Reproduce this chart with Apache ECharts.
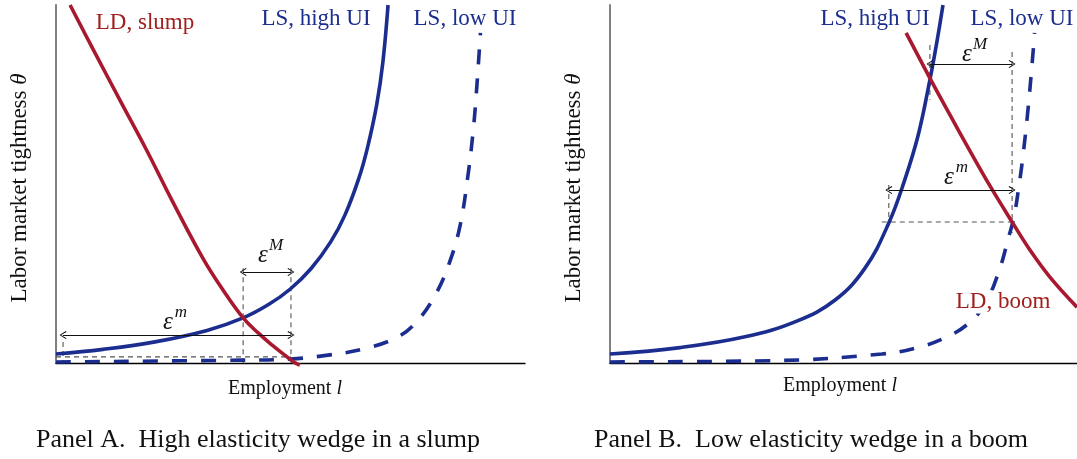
<!DOCTYPE html>
<html>
<head>
<meta charset="utf-8">
<script src="https://cdn.jsdelivr.net/npm/echarts@6/dist/echarts.min.js"></script>
<style>
html, body { margin: 0; padding: 0; background: #fff; }
#chart { width: 1077px; height: 459px; }
</style>
</head>
<body>
<div id="chart"></div>
<script>
// both panels: x = employment l, y = tightness theta, read on a 0..100 scale

// Panel A, slump
var ldSlump = [[3.0, 100], [8.0, 87.4], [13.6, 73.5], [19.3, 59.5], [24.7, 45.5], [31.3, 29.3],
    [35.6, 20.4], [39.9, 12.6], [43.1, 8.4], [46.1, 5.0], [48.8, 2.2], [50.7, 0.3], [52.0, -0.6]];
var lsHighA = [[0, 2.5], [10.0, 3.8], [21.1, 5.9], [32.2, 9.1], [39.9, 12.6], [45.4, 16.4], [49.9, 20.6],
    [54.4, 26.4], [58.6, 33.9], [61.6, 41.3], [64.6, 51.7], [66.5, 60.6], [68.4, 72.3], [69.7, 84.1], [70.8, 100]];
var lsLowA = [[0, 0.3], [39.7, 0.8], [49.9, 1.1], [58.0, 2.2], [65.5, 3.9], [72.9, 7.3], [77.2, 12.0],
    [81.0, 19.3], [83.8, 27.7], [86.1, 38.0], [87.8, 52.0], [88.9, 64.2], [89.6, 74.9], [90.5, 92.2]];
var guidesA = [
    [[39.9, 26.5], [39.9, 0]],
    [[50.1, 26.5], [50.1, 0]],
    [[0, 1.7], [50.1, 1.7]],
    [[1.5, 5.9], [1.5, 0]]
];
var arrowsA = [
    [[39.9, 25.4], [50.1, 25.4]],   // eps M
    [[1.5, 7.8], [50.1, 7.8]]       // eps m
];

// Panel B, boom
var ldBoom = [[63.4, 92.2], [68.5, 79.6], [72.8, 69.3], [77.1, 59.2], [81.4, 49.4], [86.1, 39.4],
    [89.9, 31.6], [94.2, 24.0], [100, 15.6]];
var lsHighB = [[0, 2.5], [15.0, 4.3], [28.9, 7.3], [40.0, 11.7], [48.2, 17.6], [54.6, 26.5], [59.7, 39.1],
    [63.1, 51.1], [66.0, 63.7], [68.5, 79.1], [70.0, 89.7], [71.3, 100]];
var lsLowB = [[0, 0.3], [36.4, 0.7], [58.2, 2.5], [65.5, 4.2], [71.7, 7.0], [76.9, 11.2], [80.5, 17.0],
    [83.5, 26.5], [85.2, 34.4], [86.5, 40.8], [87.6, 49.7], [88.4, 57.5], [89.5, 70.7], [90.6, 86.9], [90.9, 92.2]];
var guidesB = [
    [[68.5, 88.8], [68.5, 73.5]],
    [[86.1, 86.9], [86.1, 36.3]],
    [[58.2, 39.4], [86.1, 39.4]],
    [[59.7, 49.7], [59.7, 37.2]]
];
var arrowsB = [
    [[68.5, 83.5], [86.1, 83.5]],
    [[59.7, 48.3], [86.1, 48.3]]
];

var RED = '#a8192f';
var BLUE = '#1b2d8f';
var SERIF = '"Liberation Serif", "DejaVu Serif", serif';
var ARROW = 'path://M5,0 L10,9 L9,10 L5,2.2 L1,10 L0,9 Z';

function curve(data, idx, color, dashed) {
    return {
        type: 'line', xAxisIndex: idx, yAxisIndex: idx, data: data,
        showSymbol: false, smooth: 0.4, clip: false, silent: true,
        lineStyle: { color: color, width: 3.6, type: dashed ? [15, 14] : 'solid', cap: 'butt' },
        z: dashed ? 3 : 4
    };
}

function guide(seg, idx) {
    return {
        type: 'line', xAxisIndex: idx, yAxisIndex: idx, data: seg,
        showSymbol: false, clip: false, silent: true,
        lineStyle: { color: '#555', width: 1.1, type: [5, 4] },
        z: 2
    };
}

function arrows(list, idx) {
    return {
        type: 'line', xAxisIndex: idx, yAxisIndex: idx, data: [], silent: true,
        markLine: {
            silent: true, animation: false,
            symbol: [ARROW, ARROW], symbolSize: [8, 7],
            label: { show: false },
            lineStyle: { color: '#111', width: 1, type: 'solid' },
            data: list.map(function (s) {
                return [{ coord: s[0] }, { coord: s[1] }];
            })
        }
    };
}

function axisX(idx) {
    return {
        gridIndex: idx, type: 'value', min: 0, max: 100,
        axisLine: { show: true, onZero: false, lineStyle: { color: '#000', width: 1.3 } },
        axisTick: { show: false }, axisLabel: { show: false }, splitLine: { show: false }
    };
}
function axisY(idx) {
    return {
        gridIndex: idx, type: 'value', min: 0, max: 100,
        axisLine: { show: true, onZero: false, lineStyle: { color: '#808080', width: 2 } },
        axisTick: { show: false }, axisLabel: { show: false }, splitLine: { show: false }
    };
}

function txt(x, y, text, size, color, opts) {
    opts = opts || {};
    return {
        type: 'text', x: x, y: y, rotation: opts.rotation || 0, silent: true, z: opts.z || 10,
        style: {
            text: text,
            font: (opts.italic ? 'italic ' : '') + size + 'px ' + SERIF,
            fill: color,
            textAlign: opts.align || 'center',
            textVerticalAlign: 'middle',
            backgroundColor: opts.bg,
            padding: opts.bg ? [0, 2] : 0,
            rich: opts.rich
        }
    };
}

function eps(x, y, sup) {
    return [
        txt(x, y, 'ε', 25, '#111', { italic: true }),
        txt(x + 13, y - 9, sup, 17, '#111', { italic: true })
    ];
}

var xRich = {
    n: { fontFamily: SERIF, fontSize: 20, color: '#111' },
    i: { fontFamily: SERIF, fontSize: 20, fontStyle: 'italic', color: '#111' }
};
var yRich = {
    n: { fontFamily: SERIF, fontSize: 23, color: '#111' },
    i: { fontFamily: SERIF, fontSize: 23, fontStyle: 'italic', color: '#111' }
};

var series = [
    curve(lsLowA, 0, BLUE, true),
    curve(lsHighA, 0, BLUE, false),
    curve(ldSlump, 0, RED, false),
    curve(lsLowB, 1, BLUE, true),
    curve(lsHighB, 1, BLUE, false),
    curve(ldBoom, 1, RED, false),
    arrows(arrowsA, 0),
    arrows(arrowsB, 1)
];
guidesA.forEach(function (s) { series.push(guide(s, 0)); });
guidesB.forEach(function (s) { series.push(guide(s, 1)); });

var graphic = [
    txt(145, 23, 'LD, slump', 23, '#a0201e'),
    txt(316, 19, 'LS, high UI', 23, BLUE),
    txt(465, 19, 'LS, low UI', 23, BLUE),
    txt(875, 19, 'LS, high UI', 23, BLUE),
    txt(1022, 19, 'LS, low UI', 23, BLUE),
    txt(1003, 302, 'LD, boom', 23, '#a0201e', { bg: '#fff' }),
    txt(20, 188, '{n|Labor market tightness }{i|θ}', 23, '#111', { rotation: Math.PI / 2, rich: yRich }),
    txt(574, 188, '{n|Labor market tightness }{i|θ}', 23, '#111', { rotation: Math.PI / 2, rich: yRich }),
    txt(285, 389, '{n|Employment }{i|l}', 20, '#111', { rich: xRich }),
    txt(840, 386, '{n|Employment }{i|l}', 20, '#111', { rich: xRich }),
    txt(258, 440, 'Panel A.  High elasticity wedge in a slump', 26, '#111'),
    txt(811, 440, 'Panel B.  Low elasticity wedge in a boom', 26, '#111')
].concat(eps(263, 255, 'M'), eps(168, 322, 'm'), eps(967, 54, 'M'), eps(949, 177, 'm'));

var chart = echarts.init(document.getElementById('chart'), null, { renderer: 'canvas' });
chart.setOption({
    animation: false,
    backgroundColor: '#fff',
    grid: [
        { left: 56, top: 5, width: 469, height: 358 },
        { left: 610, top: 5, width: 467, height: 358 }
    ],
    xAxis: [axisX(0), axisX(1)],
    yAxis: [axisY(0), axisY(1)],
    series: series,
    graphic: graphic
});
</script>
</body>
</html>
